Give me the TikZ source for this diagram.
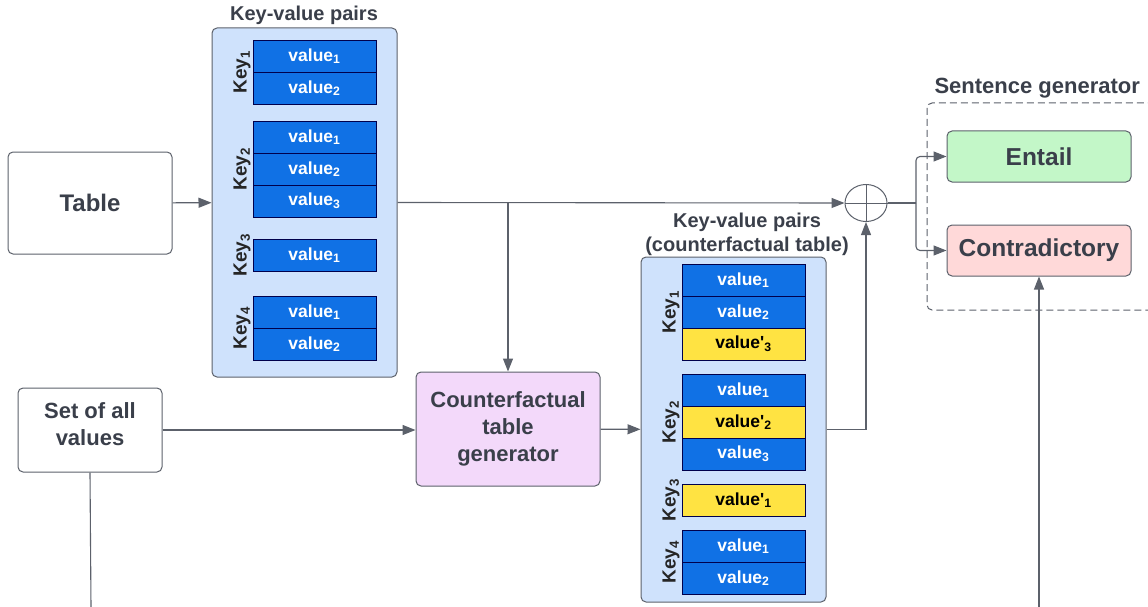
\documentclass[tikz,border=0pt]{standalone}
\usepackage{fontspec}
\setmainfont{Liberation Sans}
\usepackage{xcolor}
\usepackage{tikz}
\usetikzlibrary{arrows.meta}
\usetikzlibrary{positioning,shapes.geometric}

\definecolor{ink}{HTML}{3A3F4A}
\definecolor{edge}{HTML}{5C616B}
\definecolor{kvfill}{HTML}{CFE2FC}
\definecolor{valblue}{HTML}{1071E5}
\definecolor{valyellow}{HTML}{FFE342}
\definecolor{cffill}{HTML}{F3D9FA}
\definecolor{entfill}{HTML}{C3F7C8}
\definecolor{confill}{HTML}{FFD9D9}

\newcommand{\val}[1]{value\textsubscript{#1}}
\newcommand{\valcf}[1]{value\textquotesingle\textsubscript{#1}}
\newcommand{\keylab}[1]{Key\textsubscript{#1}}

\begin{document}
\begin{tikzpicture}[x=1pt,y=-1pt,>={Triangle[length=13pt,width=10pt]},
box/.style={draw=edge,line width=1pt,rounded corners=5pt,text=ink,align=center,font=\bfseries},
kvbox/.style={draw=edge,line width=1pt,rounded corners=5pt,fill=kvfill,minimum width=185,inner sep=0pt},
cell/.style={draw=black!70!blue,line width=0.8pt,fill=valblue,text=white,minimum width=123,minimum height=32,inner sep=0pt,font=\bfseries\fontsize{17.5}{19}\selectfont},
cellcf/.style={cell,fill=valyellow,text=black},
keyname/.style={rotate=90,text=black!85,font=\bfseries\fontsize{19}{21}\selectfont},
title/.style={text=ink,align=center,font=\bfseries\fontsize{20}{24}\selectfont},
conn/.style={draw=edge,line width=1.1pt}]
\clip (0,0) rectangle (1148,607);
\useasboundingbox (0,0) rectangle (1148,607);

% inputs
\node (Table) [box,fill=white,minimum width=164,minimum height=102,font=\bfseries\fontsize{24}{26}\selectfont] at (90,203) {Table};
\node (AllValues) [box,fill=white,minimum width=144,minimum height=84,font=\bfseries\fontsize{22}{27}\selectfont] at (90,430) {Set of all\\values\\[-16pt]};

% key-value pairs of the table
\node (KV) [kvbox,minimum height=349] at (304.5,202.5) {};
\node (KVtitle) [title] at (304,15) {Key-value pairs};
\node (k1a) [cell] at (314.5,56) {\val1};
\node (k1b) [cell] at (314.5,88) {\val2};
\node (k2a) [cell] at (314.5,137) {\val1};
\node (k2b) [cell] at (314.5,169) {\val2};
\node (k2c) [cell] at (314.5,201) {\val3};
\node (k3a) [cell] at (314.5,255) {\val1};
\node (k4a) [cell] at (314.5,312) {\val1};
\node (k4b) [cell] at (314.5,344) {\val2};
\node (Key1) [keyname] at (242,72) {\keylab1};
\node (Key2) [keyname] at (242,169) {\keylab2};
\node (Key3) [keyname] at (242,255) {\keylab3};
\node (Key4) [keyname] at (242,328) {\keylab4};

% generator
\node (CFgen) [box,fill=cffill,minimum width=184,minimum height=114,font=\bfseries\fontsize{22}{27}\selectfont] at (508,429) {Counterfactual\\table\\generator};

% key-value pairs of the counterfactual table
\node (KVcf) [kvbox,minimum height=345] at (733.5,429.5) {};
\node (KVcftitle) [title] at (747,234) {Key-value pairs\\(counterfactual table)};
\node (c1a) [cell] at (743.5,280) {\val1};
\node (c1b) [cell] at (743.5,312) {\val2};
\node (c1c) [cellcf] at (743.5,344) {\valcf3};
\node (c2a) [cell] at (743.5,390) {\val1};
\node (c2b) [cellcf] at (743.5,422) {\valcf2};
\node (c2c) [cell] at (743.5,454) {\val3};
\node (c3a) [cellcf] at (743.5,500) {\valcf1};
\node (c4a) [cell] at (743.5,546) {\val1};
\node (c4b) [cell] at (743.5,578) {\val2};
\node (cKey1) [keyname] at (671,312) {\keylab1};
\node (cKey2) [keyname] at (671,422) {\keylab2};
\node (cKey3) [keyname] at (671,500) {\keylab3};
\node (cKey4) [keyname] at (671,562) {\keylab4};

% combine
\node (Sum) [ellipse,draw=edge,line width=1pt,minimum width=42,minimum height=37,inner sep=0pt] at (866,203) {};
\draw[edge,line width=1pt] (Sum.north) -- (Sum.south) (Sum.west) -- (Sum.east);

% sentence generator
\draw[edge,line width=1pt,dash pattern=on 7pt off 4pt,rounded corners=5pt] (927,103) rectangle (1170,310);
\node (SGtitle) [title,anchor=west,font=\bfseries\fontsize{22}{24}\selectfont] at (931,88) {Sentence generator};
\node (Entail) [box,fill=entfill,minimum width=184,minimum height=51,font=\bfseries\fontsize{24.5}{28}\selectfont] at (1039,156.5) {Entail};
\node (Contra) [box,fill=confill,minimum width=184,minimum height=51,font=\bfseries\fontsize{24.5}{28}\selectfont] at (1039,250.5) {Contradictory};

% connectors
\coordinate (Split) at (508,203);
\coordinate (Fork) at (916,203);
\coordinate (DownL) at (91,607);
\coordinate (DownR) at (1039,607);
\draw[conn,->] (Table) -- (KV);
\draw[conn,->] (KV.east) -- (Sum.west);
\draw[conn,->] (Split) -- (CFgen.north);
\draw[conn,->] (AllValues.east) -- (AllValues.east -| CFgen.west);
\draw[conn,->] (CFgen) -- (KVcf);
\draw[conn,->] (KVcf.east) -| (Sum.south);
\draw[conn] (Sum.east) -- (Fork);
\draw[conn,->,rounded corners=4pt] (Fork) |- (Entail.west);
\draw[conn,->,rounded corners=4pt] (Fork) |- (Contra.west);
\draw[conn] (AllValues.south) -- (DownL);
\draw[conn,->] (DownR) -- (Contra.south);
\end{tikzpicture}
\end{document}
